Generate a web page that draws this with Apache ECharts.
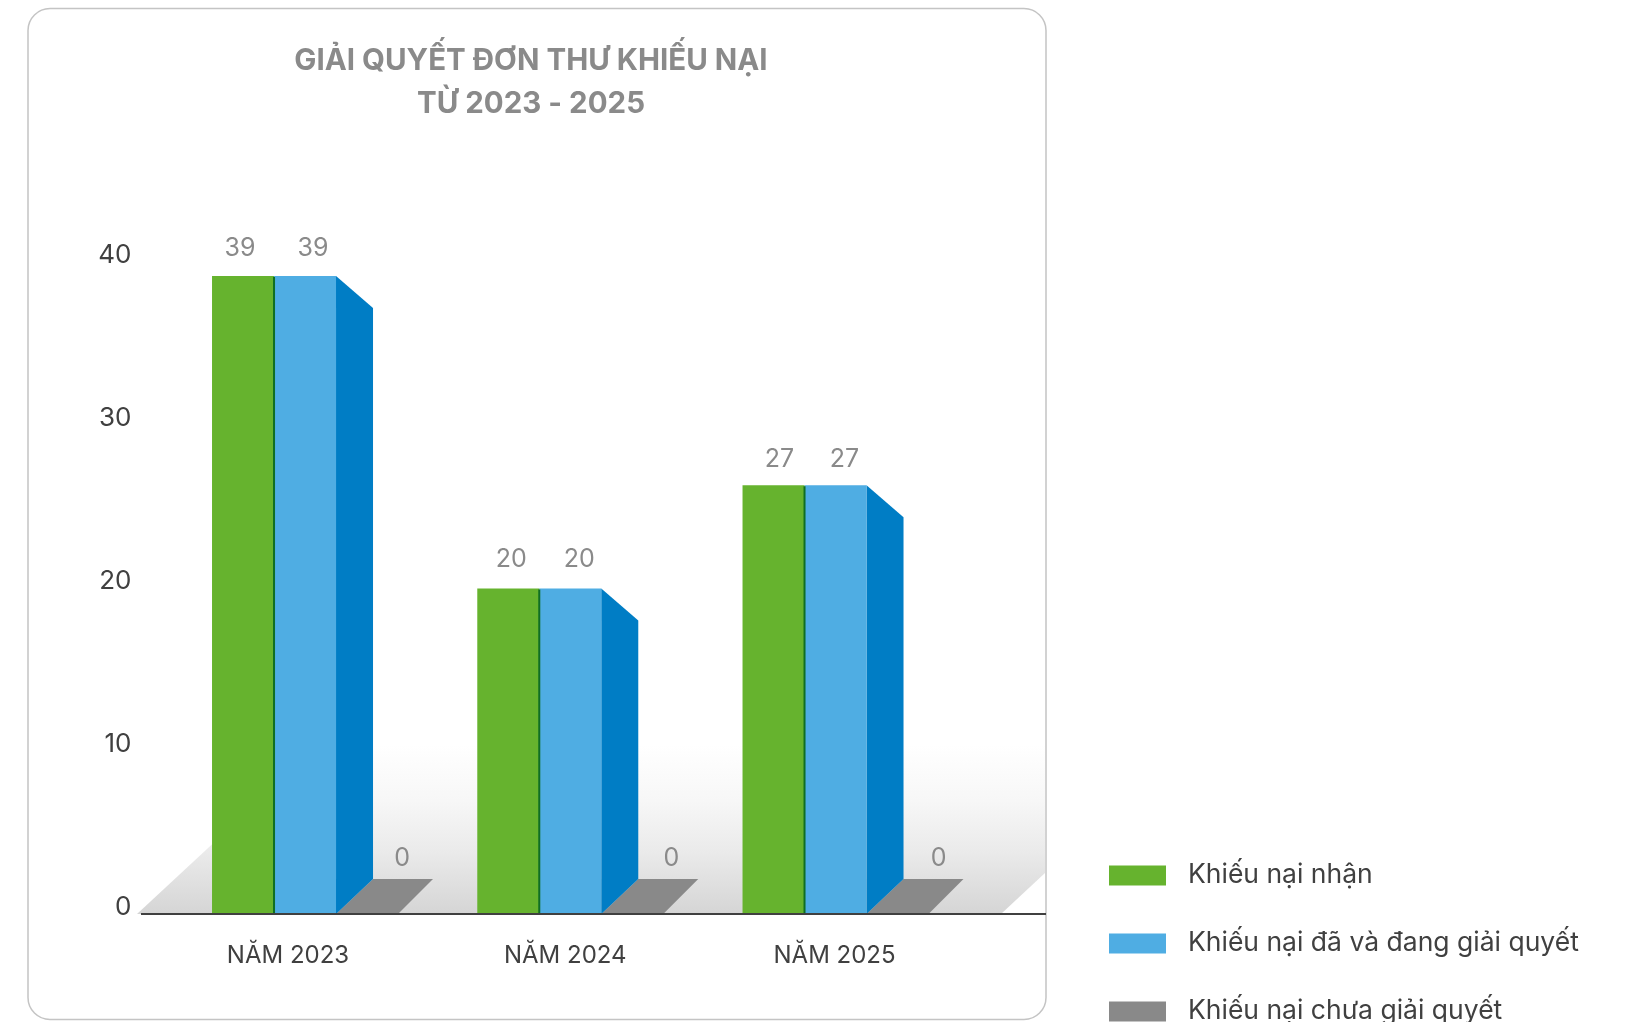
<!DOCTYPE html>
<html>
<head>
<meta charset="utf-8">
<style>
  html, body { margin: 0; padding: 0; background: #fff; overflow: hidden; }
  #chart { width: 1641px; height: 1022px; }
</style>
<script src="https://cdn.jsdelivr.net/npm/echarts@6/dist/echarts.min.js"></script>
</head>
<body>
<div id="chart"></div>
<script>
const categories = ["NĂM 2023", "NĂM 2024", "NĂM 2025"];
const seriesNames = ["Khiếu nại nhận", "Khiếu nại đã và đang giải quyết", "Khiếu nại chưa giải quyết"];

// bar heights as drawn (the 2025 bars are drawn shorter than their printed 27)
const receivedHeights = [39, 19.9, 26.2];
const resolvedHeights = [39, 19.9, 26.2];
const pendingHeights = [0, 0, 0];

// numbers printed above the bars
const receivedLabels = [39, 20, 27];
const resolvedLabels = [39, 20, 27];
const pendingLabels = [0, 0, 0];

const yTicks = [0, 10, 20, 30, 40];

// label nudges in px, the labels in the picture do not sit centred on their bars
const catLabelNudge = [14, 26, 30];
const labelNudge = [[-3, 3, 6], [8, 9, 9], [0, 4, 6]];
const labelLift = [0, 2, -1];

const GREY_TEXT = "#8a8a8a";
const DARK_TEXT = "#404040";
const FONT = "Inter, 'Noto Sans', sans-serif";
const BAR_RATIO = 62 / 265.25;

const chart = echarts.init(document.getElementById("chart"), null, { renderer: "canvas" });

// one bar: front face, receding side face, and a flat plate when the value is 0
function bar3d(seriesIdx, labels, colors) {
  return function (params, api) {
    const i = api.value(0);
    const top = api.coord([i, api.value(1)]);
    const base = api.coord([i, 0]);
    const w = api.size([1, 0])[0] * BAR_RATIO;
    const left = top[0] + (seriesIdx - 1) * w;
    const right = left + w;
    const children = [];
    if (api.value(1) > 0) {
      if (colors.depth > 0) {
        children.push({
          type: "polygon",
          shape: { points: [[right, top[1]], [right + colors.depth, top[1] + 32], [right + colors.depth, base[1] - 35], [right, base[1]]] },
          style: { fill: colors.side }
        });
      }
      children.push({
        type: "rect",
        shape: { x: left, y: top[1], width: w, height: base[1] - top[1] },
        style: { fill: colors.front }
      });
      if (colors.depth === 0) {
        // green bar only shows a thin dark edge against the blue one
        children.push({
          type: "rect",
          shape: { x: right - 1, y: top[1] + 1, width: 2, height: base[1] - top[1] - 1 },
          style: { fill: colors.side }
        });
      }
    } else {
      children.push({
        type: "polygon",
        shape: { points: [[left, base[1]], [left + 37, base[1] - 35], [right + 35, base[1] - 35], [right, base[1]]] },
        style: { fill: colors.front }
      });
    }
    const labelY = api.value(1) > 0 ? top[1] - 27 - labelLift[i] : base[1] - 56;
    children.push({
      type: "text",
      style: {
        x: (api.value(1) > 0 ? left + w / 2 : left + 66) + labelNudge[seriesIdx][i],
        y: labelY,
        text: String(labels[i]),
        fill: GREY_TEXT,
        font: "25px " + FONT,
        align: "center",
        verticalAlign: "middle"
      }
    });
    return { type: "group", children: children };
  };
}

function barSeries(name, idx, heights, labels, colors) {
  return {
    name: name,
    type: "custom",
    coordinateSystem: "cartesian2d",
    xAxisIndex: 0,
    yAxisIndex: 0,
    itemStyle: { color: colors.front },
    encode: { x: 0, y: 1 },
    z: 5 - idx,
    data: heights.map((v, i) => [i, v]),
    renderItem: bar3d(idx, labels, colors)
  };
}

chart.setOption({
  backgroundColor: "#ffffff",
  animation: false,
  textStyle: { fontFamily: FONT },
  title: {
    text: "GIẢI QUYẾT ĐƠN THƯ KHIẾU NẠI\nTỪ 2023 - 2025",
    left: 526,
    top: 34.5,
    textAlign: "center",
    textStyle: { fontSize: 29.5, fontWeight: "bold", color: GREY_TEXT, lineHeight: 43, fontFamily: FONT }
  },
  legend: {
    orient: "vertical",
    left: 1109,
    top: 862,
    height: 220,
    padding: 0,
    itemWidth: 57,
    itemHeight: 20,
    itemGap: 41,
    icon: "rect",
    data: seriesNames,
    textStyle: { fontSize: 26.5, color: DARK_TEXT, padding: [0, 0, 0, 17], fontFamily: FONT }
  },
  // second grid only carries the y tick labels, they sit a little above the bars' scale
  grid: [
    { left: 141.4, width: 795.75, top: 259.6, height: 654.4 },
    { left: 141.4, width: 795.75, top: 255, height: 652 }
  ],
  xAxis: [
    {
      type: "category",
      gridIndex: 0,
      data: categories.map((c, i) => ({ value: c, textStyle: { padding: [0, 0, 0, catLabelNudge[i] * 2] } })),
      axisLine: { show: false },
      axisTick: { show: false },
      axisLabel: { fontSize: 24, color: DARK_TEXT, margin: 30, fontFamily: FONT }
    },
    { type: "category", gridIndex: 1, data: categories, show: false }
  ],
  yAxis: [
    {
      type: "value",
      gridIndex: 0,
      min: yTicks[0],
      max: yTicks[yTicks.length - 1],
      interval: 10,
      axisLine: { show: false },
      axisTick: { show: false },
      splitLine: { show: false },
      axisLabel: { show: false }
    },
    {
      type: "value",
      gridIndex: 1,
      min: yTicks[0],
      max: yTicks[yTicks.length - 1],
      interval: 10,
      axisLine: { show: false },
      axisTick: { show: false },
      splitLine: { show: false },
      axisLabel: { fontSize: 26, color: DARK_TEXT, margin: 10, fontFamily: FONT }
    }
  ],
  graphic: [
    {
      type: "rect",
      z: -10,
      shape: { x: 28, y: 8.5, width: 1018, height: 1011, r: 22 },
      style: { fill: "#ffffff", stroke: "#c4c4c4", lineWidth: 1.5 }
    },
    {
      // floor and fading back wall behind the bars
      type: "polygon",
      z: -5,
      shape: { points: [[137, 914], [319, 745], [1045, 745], [1045, 873], [1001, 914]] },
      style: {
        fill: new echarts.graphic.LinearGradient(0, 0, 0, 1, [
          { offset: 0, color: "#ffffff" },
          { offset: 0.33, color: "#f7f7f7" },
          { offset: 0.62, color: "#ebebeb" },
          { offset: 1, color: "#d5d5d5" }
        ])
      }
    },
    {
      type: "line",
      z: 20,
      shape: { x1: 141, y1: 914, x2: 1046, y2: 914 },
      style: { stroke: DARK_TEXT, lineWidth: 2 }
    }
  ],
  series: [
    barSeries(seriesNames[0], 0, receivedHeights, receivedLabels, { front: "#66b32e", side: "#0f6e23", depth: 0 }),
    barSeries(seriesNames[1], 1, resolvedHeights, resolvedLabels, { front: "#4fade3", side: "#007dc5", depth: 37 }),
    barSeries(seriesNames[2], 2, pendingHeights, pendingLabels, { front: "#898989", side: "#898989", depth: 37 })
  ]
});
</script>
</body>
</html>
